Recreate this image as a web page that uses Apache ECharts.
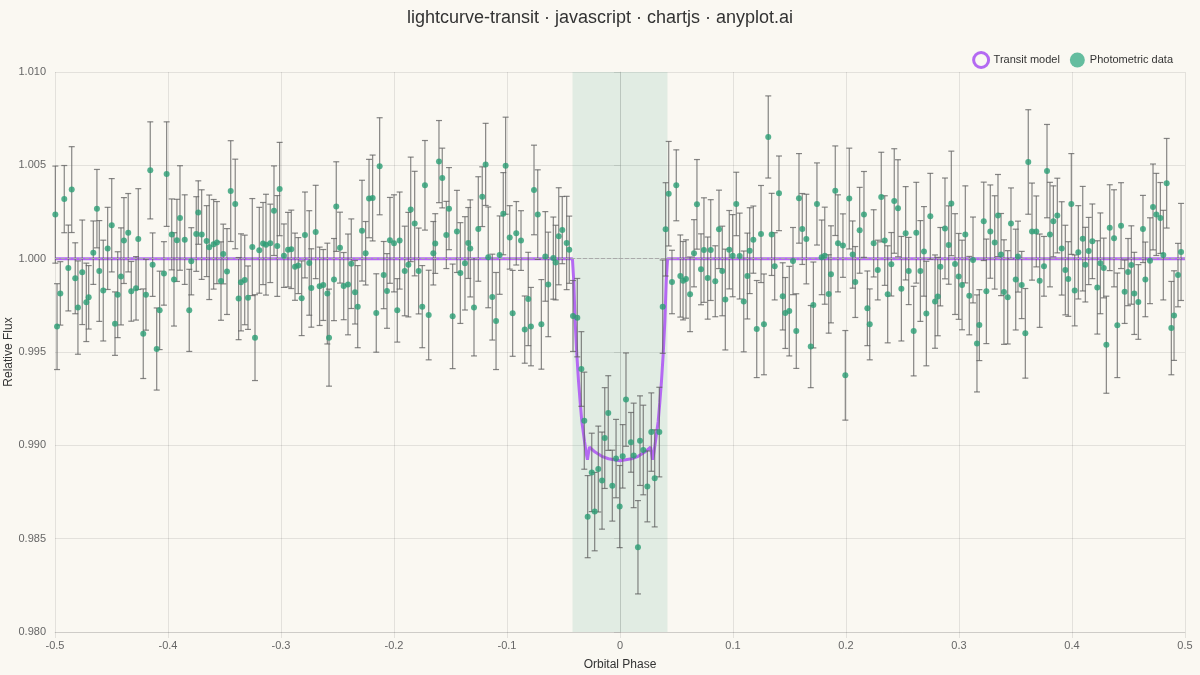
<!DOCTYPE html>
<html>
<head>
<meta charset="utf-8">
<title>lightcurve-transit</title>
<script src="https://cdn.jsdelivr.net/npm/echarts@6/dist/echarts.min.js"></script>
<style>
  html, body { margin: 0; padding: 0; background: #faf8f2; }
  #main { width: 1200px; height: 675px; }
</style>
</head>
<body>
<div id="main"></div>
<script>
// photometric points: orbital phase, relative flux, 1-sigma error
var phase = [
  -0.4997,-0.4982,-0.4953,-0.4918,-0.4882,-0.4852,-0.4821,-0.4797,-0.4759,-0.4723,
  -0.4702,-0.4661,-0.4629,-0.4608,-0.4573,-0.4534,-0.4498,-0.4469,-0.4445,-0.4416,
  -0.4390,-0.4352,-0.4325,-0.4283,-0.4263,-0.4219,-0.4195,-0.4157,-0.4136,-0.4100,
  -0.4074,-0.4036,-0.4012,-0.3967,-0.3947,-0.3921,-0.3894,-0.3852,-0.3812,-0.3794,
  -0.3750,-0.3732,-0.3702,-0.3658,-0.3635,-0.3596,-0.3567,-0.3531,-0.3511,-0.3478,
  -0.3445,-0.3405,-0.3375,-0.3354,-0.3321,-0.3292,-0.3254,-0.3230,-0.3192,-0.3159,
  -0.3133,-0.3095,-0.3062,-0.3033,-0.3012,-0.2974,-0.2938,-0.2909,-0.2876,-0.2847,
  -0.2817,-0.2788,-0.2750,-0.2732,-0.2693,-0.2658,-0.2626,-0.2590,-0.2575,-0.2531,
  -0.2511,-0.2478,-0.2445,-0.2407,-0.2378,-0.2345,-0.2321,-0.2283,-0.2251,-0.2221,
  -0.2189,-0.2157,-0.2127,-0.2091,-0.2062,-0.2036,-0.2000,-0.1971,-0.1950,-0.1905,
  -0.1873,-0.1852,-0.1817,-0.1782,-0.1750,-0.1726,-0.1693,-0.1652,-0.1635,-0.1602,
  -0.1573,-0.1537,-0.1513,-0.1481,-0.1443,-0.1413,-0.1372,-0.1343,-0.1325,-0.1292,
  -0.1254,-0.1219,-0.1189,-0.1166,-0.1130,-0.1097,-0.1065,-0.1033,-0.1012,-0.0976,
  -0.0950,-0.0918,-0.0876,-0.0843,-0.0812,-0.0788,-0.0761,-0.0728,-0.0696,-0.0661,
  -0.0635,-0.0590,-0.0569,-0.0542,-0.0511,-0.0472,-0.0449,-0.0416,-0.0378,-0.0342,
  -0.0316,-0.0286,-0.0250,-0.0224,-0.0192,-0.0159,-0.0135,-0.0104,-0.0068,-0.0035,
  -0.0003,0.0024,0.0053,0.0097,0.0121,0.0159,0.0177,0.0206,0.0242,0.0277,
  0.0307,0.0348,0.0378,0.0404,0.0431,0.0460,0.0498,0.0534,0.0558,0.0584,
  0.0620,0.0655,0.0681,0.0717,0.0743,0.0776,0.0803,0.0843,0.0876,0.0905,
  0.0932,0.0967,0.0997,0.1029,0.1059,0.1095,0.1127,0.1148,0.1180,0.1210,
  0.1248,0.1274,0.1312,0.1342,0.1369,0.1407,0.1440,0.1463,0.1498,0.1531,
  0.1560,0.1584,0.1613,0.1649,0.1688,0.1711,0.1743,0.1785,0.1812,0.1847,
  0.1867,0.1905,0.1929,0.1973,0.1994,0.2029,0.2059,0.2082,0.2121,0.2159,
  0.2189,0.2210,0.2245,0.2281,0.2312,0.2343,0.2369,0.2401,0.2427,0.2460,
  0.2490,0.2528,0.2555,0.2599,0.2622,0.2658,0.2690,0.2711,0.2746,0.2788,
  0.2812,0.2835,0.2876,0.2909,0.2932,0.2965,0.2997,0.3027,0.3056,0.3091,
  0.3124,0.3159,0.3180,0.3219,0.3242,0.3277,0.3316,0.3345,0.3372,0.3398,
  0.3431,0.3460,0.3502,0.3522,0.3555,0.3587,0.3613,0.3646,0.3684,0.3714,
  0.3752,0.3779,0.3805,0.3835,0.3870,0.3909,0.3941,0.3967,0.3994,0.4024,
  0.4056,0.4095,0.4118,0.4148,0.4180,0.4224,0.4251,0.4281,0.4304,0.4334,
  0.4372,0.4401,0.4434,0.4466,0.4496,0.4525,0.4551,0.4587,0.4628,0.4649,
  0.4690,0.4717,0.4746,0.4782,0.4808,0.4838,0.4879,0.4903,0.4938,0.4965
];
var flux = [
  1.00236,0.99636,0.99814,1.00319,0.99950,1.00370,0.99895,0.99738,0.99927,0.99766,
  0.99793,1.00032,1.00268,0.99934,0.99829,1.00055,1.00179,0.99652,0.99807,0.99905,
  1.00097,1.00139,0.99825,0.99841,1.00105,0.99598,0.99807,1.00473,0.99968,0.99516,
  0.99723,0.99921,1.00453,1.00130,0.99889,1.00098,1.00218,1.00102,0.99723,0.99986,
  1.00132,1.00247,1.00129,1.00094,1.00061,1.00077,1.00086,0.99880,1.00025,0.99931,
  1.00362,1.00293,0.99786,0.99873,0.99886,0.99791,1.00062,0.99577,1.00045,1.00081,
  1.00075,1.00082,1.00257,1.00068,1.00373,1.00016,1.00048,1.00050,0.99957,0.99963,
  0.99788,1.00127,0.99977,0.99843,1.00143,0.99852,0.99859,0.99813,0.99577,0.99888,
  1.00279,1.00059,0.99853,0.99862,0.99973,0.99820,0.99743,1.00150,1.00029,1.00322,
  1.00325,0.99709,1.00495,0.99912,0.99827,1.00098,1.00082,0.99723,1.00097,0.99934,
  0.99968,1.00264,1.00188,0.99934,0.99743,1.00393,0.99698,1.00029,1.00081,1.00520,
  1.00432,1.00127,1.00268,0.99691,1.00146,0.99923,0.99975,1.00084,1.00055,0.99739,
  1.00159,1.00332,1.00505,1.00007,0.99794,0.99666,1.00019,1.00241,1.00498,1.00114,
  0.99707,1.00136,1.00097,0.99620,0.99784,0.99636,1.00368,1.00236,0.99648,1.00012,
  0.99862,1.00003,0.99979,1.00120,1.00153,1.00084,1.00048,0.99693,0.99684,0.99409,
  0.99132,0.98618,0.98855,0.98645,0.98873,0.98811,0.99039,0.99173,0.98784,0.98929,
  0.98672,0.98941,0.99245,0.99016,0.98946,0.98454,0.99025,0.98975,0.98780,0.99071,
  0.98823,0.99071,0.99743,1.00157,1.00348,0.99875,1.00393,0.99907,0.99882,0.99891,
  0.99809,1.00029,1.00291,0.99943,1.00046,0.99896,1.00046,0.99879,1.00157,0.99934,
  0.99781,1.00048,1.00016,1.00293,1.00014,0.99771,0.99907,1.00043,1.00102,0.99623,
  1.00132,0.99648,1.00652,1.00130,0.99959,1.00350,0.99798,0.99709,0.99719,0.99987,
  0.99612,1.00323,1.00159,1.00105,0.99529,0.99752,1.00293,1.00007,1.00016,0.99811,
  0.99916,1.00364,1.00082,1.00070,0.99375,1.00322,1.00022,0.99875,1.00152,1.00237,
  0.99734,0.99648,1.00082,0.99939,1.00330,1.00097,0.99809,0.99970,1.00309,1.00270,
  0.99839,1.00136,0.99934,0.99612,1.00139,0.99934,1.00039,0.99706,1.00227,0.99770,
  0.99797,0.99957,1.00162,1.00073,1.00296,0.99971,0.99905,0.99859,1.00130,0.99802,
  0.99993,0.99546,0.99644,1.00200,0.99825,1.00145,1.00087,1.00231,1.00022,0.99821,
  0.99793,1.00189,0.99888,1.00011,0.99859,0.99600,1.00518,1.00145,1.00146,0.99882,
  0.99959,1.00469,1.00129,1.00200,1.00231,1.00055,0.99939,0.99891,1.00293,0.99830,
  1.00034,1.00107,0.99968,1.00041,1.00093,0.99846,0.99975,0.99950,0.99539,1.00166,
  1.00109,0.99643,1.00177,0.99823,0.99928,0.99966,0.99814,0.99768,1.00159,0.99889,
  0.99989,1.00277,1.00237,1.00218,1.00019,1.00404,0.99628,0.99695,0.99912,1.00036
];
var fluxErr = [
  0.0026,0.0023,0.0017,0.0018,0.0023,0.0023,0.0019,0.0025,0.0028,0.0021,
  0.0017,0.0017,0.0021,0.0027,0.0027,0.0022,0.0025,0.0017,0.0023,0.0026,
  0.0023,0.0021,0.0016,0.0017,0.0027,0.0024,0.0019,0.0026,0.0017,0.0022,
  0.0021,0.0017,0.0028,0.0019,0.0025,0.0022,0.0028,0.0024,0.0022,0.0018,
  0.0020,0.0017,0.0024,0.0019,0.0028,0.0024,0.0022,0.0021,0.0016,0.0023,
  0.0027,0.0024,0.0022,0.0026,0.0024,0.0017,0.0026,0.0023,0.0023,0.0022,
  0.0027,0.0021,0.0024,0.0027,0.0025,0.0017,0.0020,0.0021,0.0018,0.0015,
  0.0020,0.0023,0.0028,0.0021,0.0025,0.0021,0.0019,0.0027,0.0026,0.0022,
  0.0024,0.0019,0.0018,0.0027,0.0024,0.0017,0.0022,0.0027,0.0017,0.0021,
  0.0023,0.0021,0.0026,0.0018,0.0020,0.0023,0.0026,0.0017,0.0026,0.0024,
  0.0028,0.0028,0.0028,0.0023,0.0022,0.0024,0.0024,0.0017,0.0016,0.0022,
  0.0016,0.0018,0.0022,0.0028,0.0022,0.0027,0.0025,0.0019,0.0026,0.0026,
  0.0028,0.0016,0.0022,0.0027,0.0023,0.0026,0.0021,0.0022,0.0026,0.0017,
  0.0023,0.0017,0.0016,0.0018,0.0025,0.0021,0.0024,0.0024,0.0024,0.0024,
  0.0028,0.0022,0.0020,0.0026,0.0018,0.0025,0.0018,0.0019,0.0021,0.0020,
  0.0026,0.0022,0.0021,0.0021,0.0023,0.0026,0.0027,0.0020,0.0019,0.0021,
  0.0022,0.0017,0.0025,0.0016,0.0028,0.0025,0.0024,0.0024,0.0019,0.0021,
  0.0026,0.0024,0.0025,0.0025,0.0028,0.0017,0.0019,0.0022,0.0021,0.0021,
  0.0020,0.0018,0.0024,0.0019,0.0028,0.0022,0.0027,0.0019,0.0021,0.0024,
  0.0027,0.0021,0.0022,0.0017,0.0023,0.0027,0.0023,0.0023,0.0018,0.0026,
  0.0026,0.0027,0.0022,0.0022,0.0018,0.0020,0.0018,0.0019,0.0024,0.0018,
  0.0020,0.0024,0.0019,0.0024,0.0022,0.0023,0.0022,0.0020,0.0026,0.0021,
  0.0026,0.0024,0.0026,0.0017,0.0024,0.0027,0.0018,0.0019,0.0023,0.0023,
  0.0020,0.0019,0.0018,0.0016,0.0024,0.0024,0.0026,0.0017,0.0028,0.0026,
  0.0028,0.0025,0.0018,0.0024,0.0027,0.0027,0.0024,0.0028,0.0023,0.0025,
  0.0021,0.0021,0.0027,0.0021,0.0028,0.0027,0.0023,0.0024,0.0026,0.0021,
  0.0023,0.0026,0.0019,0.0021,0.0028,0.0025,0.0025,0.0022,0.0022,0.0028,
  0.0025,0.0019,0.0027,0.0019,0.0018,0.0024,0.0028,0.0026,0.0019,0.0025,
  0.0016,0.0025,0.0028,0.0019,0.0020,0.0025,0.0024,0.0020,0.0027,0.0019,
  0.0025,0.0028,0.0020,0.0018,0.0020,0.0025,0.0027,0.0016,0.0026,0.0023,
  0.0026,0.0028,0.0023,0.0017,0.0018,0.0021,0.0022,0.0020,0.0018,0.0020,
  0.0023,0.0023,0.0022,0.0019,0.0024,0.0024,0.0025,0.0024,0.0017,0.0026
];

// transit model curve
var modelPhase = [
  -0.5, -0.0421, -0.0409, -0.0397, -0.0382, -0.0367, -0.0352, -0.0338, -0.0314,
  -0.0297, -0.0288, -0.0279, -0.0270, -0.0220, -0.0161, -0.0102, 0,
  0.0102, 0.0161, 0.0220, 0.0270, 0.0279, 0.0288, 0.0297, 0.0314,
  0.0338, 0.0352, 0.0367, 0.0382, 0.0397, 0.0409, 0.0421, 0.5
];
var modelFlux = [
  1.0, 1.0, 0.99879, 0.99664, 0.99486, 0.99343, 0.99227, 0.99129, 0.99022,
  0.98950, 0.98923, 0.98959, 0.98991, 0.98964, 0.98941, 0.98928, 0.98917,
  0.98928, 0.98941, 0.98964, 0.98991, 0.98959, 0.98923, 0.98950, 0.99022,
  0.99129, 0.99227, 0.99343, 0.99486, 0.99664, 0.99879, 1.0, 1.0
];

var transitWindow = [-0.042, 0.042];
var baseline = 1.0;

var purple = '#b469f2';
var green = '#2a9d74';
var textFont = '"Liberation Sans", Arial, sans-serif';

var points = [];
for (var i = 0; i < phase.length; i++) {
  points.push([phase[i], flux[i], fluxErr[i]]);
}
var model = [];
for (var j = 0; j < modelPhase.length; j++) {
  model.push([modelPhase[j], modelFlux[j]]);
}

function renderErrorBar(params, api) {
  var x = api.value(0);
  var y = api.value(1);
  var e = api.value(2);
  var top = api.coord([x, y + e]);
  var bot = api.coord([x, y - e]);
  var cap = 3;
  var style = { stroke: 'rgba(95,95,95,0.75)', lineWidth: 1.2 };
  return {
    type: 'group',
    children: [
      { type: 'line', shape: { x1: top[0], y1: top[1], x2: bot[0], y2: bot[1] }, style: style },
      { type: 'line', shape: { x1: top[0] - cap, y1: top[1], x2: top[0] + cap, y2: top[1] }, style: style },
      { type: 'line', shape: { x1: bot[0] - cap, y1: bot[1], x2: bot[0] + cap, y2: bot[1] }, style: style }
    ]
  };
}

var chart = echarts.init(document.getElementById('main'));
var gridColor = 'rgba(0,0,0,0.09)';

var option = {
  backgroundColor: '#faf8f2',
  animation: false,
  textStyle: { fontFamily: textFont },
  title: {
    text: 'lightcurve-transit \u00b7 javascript \u00b7 chartjs \u00b7 anyplot.ai',
    left: 'center',
    top: 4,
    textStyle: { fontSize: 18, fontWeight: 'normal', color: '#333', fontFamily: textFont }
  },
  legend: {
    right: 22,
    top: 46,
    itemWidth: 15,
    itemHeight: 15,
    itemGap: 10,
    textStyle: { fontSize: 11, color: '#333', fontFamily: textFont },
    data: [
      { name: 'Transit model', icon: 'circle',
        itemStyle: { color: 'transparent', borderColor: purple, borderWidth: 3 } },
      { name: 'Photometric data', icon: 'circle', itemStyle: { color: '#3fae8a' } }
    ]
  },
  grid: { left: 55, right: 15, top: 72, bottom: 43, containLabel: false, outerBoundsMode: 'none' },
  xAxis: {
    type: 'value',
    min: -0.5,
    max: 0.5,
    interval: 0.1,
    name: 'Orbital Phase',
    nameLocation: 'middle',
    nameGap: 27,
    nameMoveOverlap: false,
    nameTextStyle: { fontSize: 12, color: '#333' },
    axisLine: { lineStyle: { color: gridColor } },
    axisTick: { show: true, length: 6, lineStyle: { color: gridColor } },
    axisLabel: {
      fontSize: 11, color: '#666', margin: 8,
      formatter: function (v) { return String(Math.round(v * 10) / 10); }
    },
    splitLine: { lineStyle: { color: gridColor } }
  },
  yAxis: {
    type: 'value',
    min: 0.98,
    max: 1.01,
    interval: 0.005,
    name: 'Relative Flux',
    nameLocation: 'middle',
    nameGap: 40,
    nameMoveOverlap: false,
    nameTextStyle: { fontSize: 12, color: '#333' },
    axisLine: { show: true, lineStyle: { color: gridColor } },
    axisTick: { show: true, length: 6, lineStyle: { color: gridColor } },
    axisLabel: {
      fontSize: 11, color: '#666', margin: 9,
      formatter: function (v) { return v.toFixed(3); }
    },
    splitLine: { lineStyle: { color: gridColor } }
  },
  series: [
    {
      name: 'background',
      type: 'line',
      data: [],
      silent: true,
      markArea: {
        silent: true,
        itemStyle: { color: 'rgba(46,158,120,0.12)' },
        data: [[{ xAxis: transitWindow[0] }, { xAxis: transitWindow[1] }]]
      },
      markLine: {
        silent: true,
        symbol: 'none',
        label: { show: false },
        lineStyle: { color: '#aaa', type: 'dashed', width: 1 },
        data: [{ yAxis: baseline }]
      }
    },
    {
      name: 'Transit model',
      type: 'line',
      data: model,
      showSymbol: false,
      smooth: false,
      z: 3,
      lineStyle: { color: purple, width: 3 },
      itemStyle: { color: purple }
    },
    {
      name: 'errors',
      type: 'custom',
      data: points,
      encode: { x: 0, y: 1 },
      renderItem: renderErrorBar,
      silent: true,
      z: 4
    },
    {
      name: 'Photometric data',
      type: 'scatter',
      data: points,
      symbolSize: 6,
      z: 5,
      itemStyle: { color: green }
    }
  ]
};

chart.setOption(option);
window.onresize = chart.resize;
</script>
</body>
</html>
